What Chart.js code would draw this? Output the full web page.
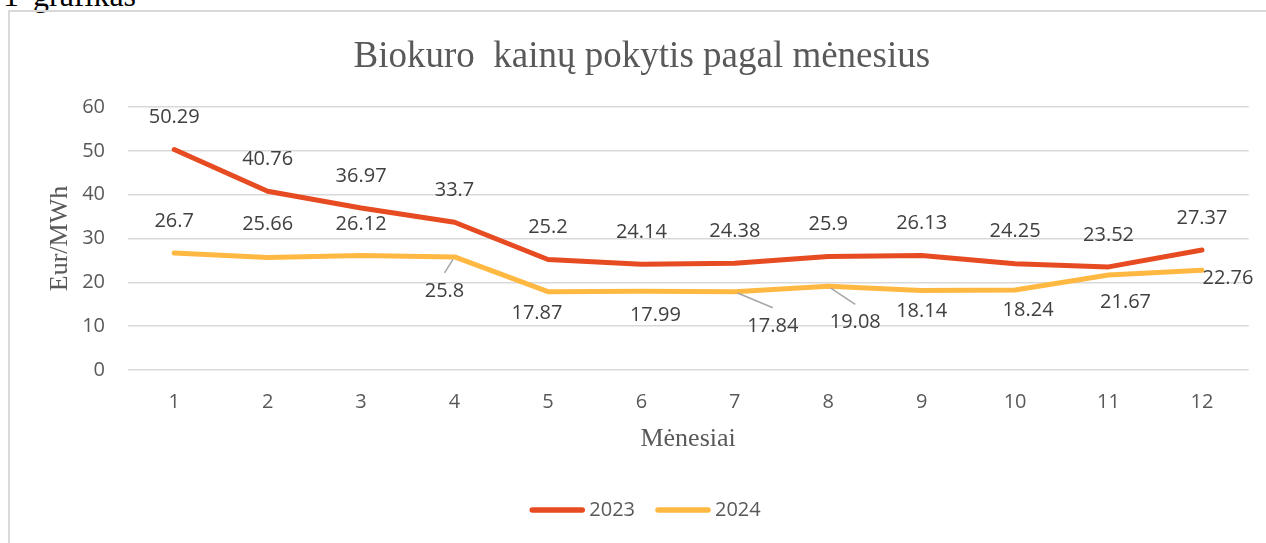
<!DOCTYPE html>
<html><head><meta charset="utf-8">
<script src="https://cdn.jsdelivr.net/npm/chart.js@4/dist/chart.umd.min.js"></script>
<style>
html,body{margin:0;padding:0;background:#fff;width:1266px;height:543px;overflow:hidden;position:relative}
#frame{position:absolute;left:8px;top:10px;width:1300px;height:600px;border-left:2px solid #D9D9D9;border-top:2px solid #D9D9D9;box-sizing:border-box}
#cap{position:absolute;left:3px;top:-21px;font:32px/32px "Liberation Serif";color:#000;word-spacing:6px;white-space:nowrap}
#wrap{position:absolute;left:0;top:0;width:1266px;height:543px}
</style></head><body>
<div id="cap">1 grafikas</div>
<div id="frame"></div>
<div id="wrap"><canvas id="c" width="1266" height="543"></canvas></div>
<script>
// ---- data ----
const months = ['1','2','3','4','5','6','7','8','9','10','11','12'];
const values2023 = [50.29, 40.76, 36.97, 33.7, 25.2, 24.14, 24.38, 25.9, 26.13, 24.25, 23.52, 27.37];
const values2024 = [26.7, 25.66, 26.12, 25.8, 17.87, 17.99, 17.84, 19.08, 18.14, 18.24, 21.67, 22.76];
const seriesNames = ['2023', '2024'];
const yTickValues = [0, 10, 20, 30, 40, 50, 60];
const chartTitle = 'Biokuro  kainų pokytis pagal mėnesius';
const yTitle = 'Eur/MWh';
const xTitle = 'Mėnesiai';

// ---- label placement (style, px offsets from each point; third item = leader line) ----
const labelOffsets2023 = months.map(() => [0, -32, false]);
const labelOffsets2024 = [
  [0, -32, false], [0, -33, false], [0, -31, false], [-10, 34, true],
  [-11, 22, false], [14, 24, false], [38, 34, true], [27, 36, true],
  [0, 21, false], [13, 20, false], [17, 27, false], [26, 8, false]
];
const labelOffsets = [labelOffsets2023, labelOffsets2024];
const colors = ['#E64B22', '#FFB942'];

const dataLabelPlugin = {
  id: 'dataLabels',
  afterDatasetsDraw(chart) {
    const ctx = chart.ctx;
    ctx.save();
    ctx.font = '20px "Open Sans"';
    ctx.textAlign = 'center';
    ctx.textBaseline = 'middle';
    chart.data.datasets.forEach((ds, di) => {
      const meta = chart.getDatasetMeta(di);
      meta.data.forEach((pt, i) => {
        const [dx, dy, leader] = labelOffsets[di][i];
        const lx = pt.x + dx, ly = pt.y + dy;
        if (leader) {
          const ex = lx, ey = ly - 18;
          const len = Math.hypot(ex - pt.x, ey - pt.y);
          const sx = pt.x + (ex - pt.x) * 3 / len, sy = pt.y + (ey - pt.y) * 3 / len;
          ctx.strokeStyle = '#A6A6A6';
          ctx.lineWidth = 1.5;
          ctx.beginPath(); ctx.moveTo(sx, sy); ctx.lineTo(ex, ey); ctx.stroke();
        }
        ctx.fillStyle = '#404040';
        ctx.fillText(String(ds.data[i]), lx, ly);
      });
    });
    ctx.restore();
  }
};

const legendPlugin = {
  id: 'customLegend',
  afterDraw(chart) {
    const ctx = chart.ctx;
    ctx.save();
    ctx.font = '20px "Open Sans"';
    ctx.textBaseline = 'middle';
    ctx.textAlign = 'left';
    const sample = 56, gapText = 4, gapItem = 20, y = 510;
    const items = chart.data.datasets.map(ds => ({label: ds.label, color: ds.borderColor, w: ctx.measureText(ds.label).width}));
    let total = 0;
    items.forEach((it, i) => { total += sample + gapText + it.w + (i < items.length - 1 ? gapItem : 0); });
    let x = 645 - total / 2;
    items.forEach(it => {
      ctx.strokeStyle = it.color;
      ctx.lineWidth = 5.5;
      ctx.lineCap = 'round';
      ctx.beginPath(); ctx.moveTo(x + 3, y); ctx.lineTo(x + sample - 3, y); ctx.stroke();
      x += sample + gapText;
      ctx.fillStyle = '#595959';
      ctx.fillText(it.label, x, y);
      x += it.w + gapItem;
    });
    ctx.restore();
  }
};

new Chart(document.getElementById('c'), {
  type: 'line',
  data: {
    labels: months,
    datasets: [
      {label: seriesNames[0], data: values2023, borderColor: colors[0], backgroundColor: colors[0]},
      {label: seriesNames[1], data: values2024, borderColor: colors[1], backgroundColor: colors[1]}
    ]
  },
  options: {
    responsive: false,
    animation: false,
    devicePixelRatio: 1,
    layout: {padding: {left: 35, right: 17.3, top: 0, bottom: 0}},
    elements: {
      line: {borderWidth: 5, tension: 0, borderCapStyle: 'round', borderJoinStyle: 'round', fill: false},
      point: {radius: 0, hoverRadius: 0}
    },
    plugins: {
      legend: {display: false},
      tooltip: {enabled: false},
      title: {
        display: true,
        text: chartTitle,
        color: '#595959',
        font: {family: '"Liberation Serif"', size: 37, weight: 'normal', lineHeight: 1.2},
        padding: {top: 35.5, bottom: 27.1}
      }
    },
    scales: {
      x: {
        offset: true,
        grid: {display: false, drawTicks: false},
        border: {display: false},
        ticks: {color: '#595959', font: {family: '"Open Sans"', size: 20, lineHeight: 1.2}, padding: 20, maxRotation: 0},
        title: {display: true, text: xTitle, color: '#595959', font: {family: '"Liberation Serif"', size: 26, lineHeight: 1.2}, padding: {top: 0, bottom: 88}},
        afterFit(scale) { scale.height = 173; }
      },
      y: {
        min: 0, max: 60,
        afterBuildTicks(scale) { scale.ticks = yTickValues.map(v => ({value: v})); },
        grid: {color: '#D9D9D9', lineWidth: 1.5, drawTicks: false},
        border: {display: false},
        ticks: {color: '#595959', font: {family: '"Open Sans"', size: 20, lineHeight: 1.2}, padding: 22.5},
        title: {display: true, text: yTitle, color: '#595959', font: {family: '"Liberation Serif"', size: 26, lineHeight: 1.2}, padding: {top: 10, bottom: 0}},
        afterFit(scale) { scale.width = 92.5; }
      }
    }
  },
  plugins: [dataLabelPlugin, legendPlugin]
});
</script>
</body></html>
